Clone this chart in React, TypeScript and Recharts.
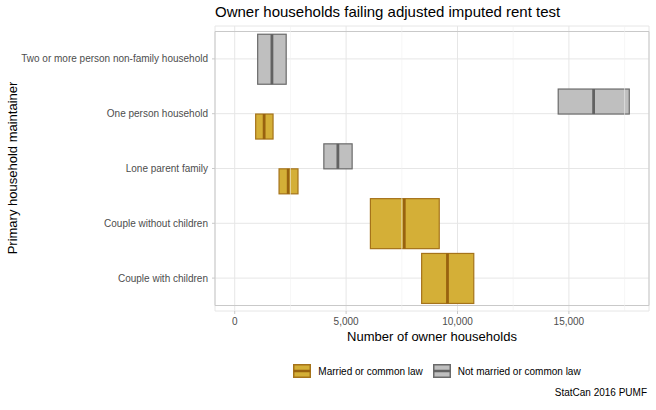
import { Bar, BarChart, CartesianGrid, ReferenceArea, ReferenceLine, XAxis, YAxis } from "recharts";

const categories = [
  "Two or more person non-family household",
  "One person household",
  "Lone parent family",
  "Couple without children",
  "Couple with children",
];

// married or common law
const marriedLow = [null, 940, 1990, 6090, 8390];
const marriedMedian = [null, 1320, 2400, 7610, 9550];
const marriedHigh = [null, 1720, 2840, 9180, 10730];

// not married or common law
const notMarriedLow = [1030, 14520, 4000, null, null];
const notMarriedMedian = [1670, 16110, 4630, null, null];
const notMarriedHigh = [2310, 17710, 5270, null, null];

const xTicks = [0, 5000, 10000, 15000];
const minorTicks = [2500, 7500, 12500, 17500];

const data = categories.map((name, i) => ({
  name,
  married: marriedLow[i] == null ? null : [marriedLow[i], marriedHigh[i]],
  marriedMedian: marriedMedian[i],
  notMarried: notMarriedLow[i] == null ? null : [notMarriedLow[i], notMarriedHigh[i]],
  notMarriedMedian: notMarriedMedian[i],
}));

const xMax = Math.max(...(marriedHigh as number[]), ...(notMarriedHigh as number[]));
const pad = xMax * 0.05;
const xDomain = [-pad, xMax + pad];

const FONT = '"Liberation Sans", Arial, Helvetica, sans-serif';

const GOLD = { fill: "#d4af37", stroke: "#a5731a", mid: "#98620f" };
const GREY = { fill: "#bfbfbf", stroke: "#6a6a6a", mid: "#626262" };

function crossbar(key: "married" | "notMarried", other: string, c: typeof GOLD) {
  return (props: any) => {
    const { x, y, width, height, payload } = props;
    const range = payload[key];
    if (!range) return <g />;
    let top = y;
    let h = height;
    // only one group in this row: take the whole dodge width
    if (payload[other] == null) {
      h = height * 2;
      if (key === "married") top = y - height;
    }
    const [lo, hi] = range;
    const left = width < 0 ? x + width : x;
    const w = Math.abs(width);
    const mx = left + (w * (payload[key + "Median"] - lo)) / (hi - lo);
    return (
      <g>
        <rect x={left} y={top} width={w} height={h} fill={c.fill} stroke={c.stroke} strokeWidth={1.2} />
        <line x1={mx} x2={mx} y1={top} y2={top + h} stroke={c.mid} strokeWidth={2.8} />
      </g>
    );
  };
}

function YTick(props: any) {
  const { x, y, payload } = props;
  return (
    <text x={x} y={y} dy="0.35em" textAnchor="end" fontSize={10} fill="#4d4d4d" fontFamily={FONT}>
      {payload.value}
    </text>
  );
}

function LegendKey({ c }: { c: typeof GOLD }) {
  return (
    <svg width={18} height={14} style={{ display: "block" }}>
      <rect x={0.75} y={0.75} width={16.5} height={12.5} fill={c.fill} stroke={c.stroke} strokeWidth={1.5} />
      <line x1={0.75} x2={17.25} y1={7} y2={7} stroke={c.mid} strokeWidth={2.5} />
    </svg>
  );
}

export default function App() {
  return (
    <div
      style={{
        position: "absolute",
        left: 0,
        top: 0,
        width: 656,
        height: 410,
        background: "#fff",
        fontFamily: FONT,
      }}
    >
      <div style={{ position: "absolute", left: 215, top: 3, fontSize: 15, color: "#000" }}>
        Owner households failing adjusted imputed rent test
      </div>
      <BarChart
        width={656}
        height={410}
        data={data}
        layout="vertical"
        barCategoryGap="5%"
        barGap={0}
        margin={{ top: 26, right: 7, left: 0, bottom: 69 }}
      >
        <CartesianGrid stroke="#e6e6e6" strokeWidth={1} />
        {minorTicks.map((t) => (
          <ReferenceLine key={t} x={t} stroke="#f0f0f0" strokeWidth={0.6} />
        ))}
        <ReferenceArea x1={xDomain[0]} x2={xDomain[1]} fill="none" stroke="#c9c9c9" strokeWidth={1} ifOverflow="extendDomain" />
        <XAxis
          type="number"
          domain={xDomain}
          ticks={xTicks}
          allowDataOverflow
          height={30}
          axisLine={false}
          tickLine={{ stroke: "#c9c9c9" }}
          tickSize={3}
          tickMargin={4}
          tick={{ fontSize: 10, fill: "#4d4d4d", fontFamily: FONT }}
          tickFormatter={(v: number) => v.toLocaleString("en-US")}
        />
        <YAxis
          type="category"
          dataKey="name"
          width={215}
          padding={{ top: 5.5, bottom: 5.5 }}
          axisLine={false}
          tickLine={{ stroke: "#c9c9c9" }}
          tickSize={3}
          tickMargin={4}
          tick={<YTick />}
          interval={0}
        />
        <Bar
          dataKey="notMarried"
          name="Not married or common law"
          isAnimationActive={false}
          shape={crossbar("notMarried", "married", GREY)}
        />
        <Bar
          dataKey="married"
          name="Married or common law"
          isAnimationActive={false}
          shape={crossbar("married", "notMarried", GOLD)}
        />
      </BarChart>
      <div style={{ position: "absolute", left: 5, top: 161, width: 14, height: 14 }}>
        <div
          style={{
            position: "absolute",
            left: 7,
            top: 7,
            transform: "translate(-50%, -50%) rotate(-90deg)",
            whiteSpace: "nowrap",
            fontSize: 13,
            color: "#000",
          }}
        >
          Primary household maintainer
        </div>
      </div>
      <div
        style={{
          position: "absolute",
          left: 215,
          width: 434,
          top: 329,
          textAlign: "center",
          fontSize: 13,
          color: "#000",
        }}
      >
        Number of owner households
      </div>
      <div
        style={{
          position: "absolute",
          left: 220,
          width: 434,
          top: 364,
          display: "flex",
          justifyContent: "center",
          alignItems: "center",
          fontSize: 10,
          color: "#000",
        }}
      >
        <LegendKey c={GOLD} />
        <span style={{ marginLeft: 7, marginRight: 10 }}>Married or common law</span>
        <LegendKey c={GREY} />
        <span style={{ marginLeft: 7 }}>Not married or common law</span>
      </div>
      <div style={{ position: "absolute", right: 9, top: 387, fontSize: 10, color: "#000" }}>
        StatCan 2016 PUMF
      </div>
    </div>
  );
}
